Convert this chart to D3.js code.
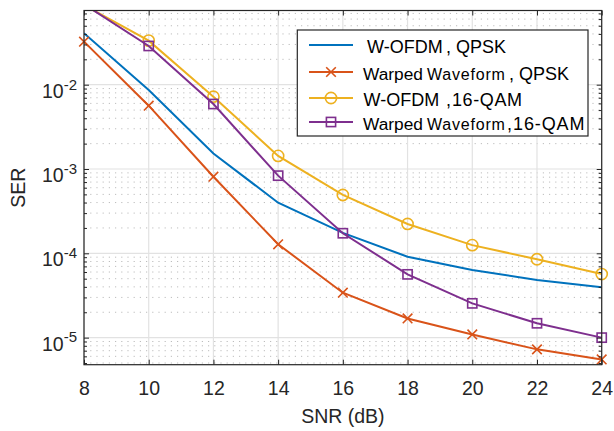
<!DOCTYPE html>
<html>
<head>
<meta charset="utf-8">
<script src="https://cdn.jsdelivr.net/npm/d3@7"></script>
<style>
  body { margin: 0; background: #fff; }
  svg { display: block; font-family: "Liberation Sans", Arial, sans-serif; }
</style>
</head>
<body>
<div id="chart"></div>
<script>
// SNR values (dB) on the x axis
const snr = [8, 10, 12, 14, 16, 18, 20, 22, 24];

// SER curves
const wofdmQpsk  = [0.0408, 8.65e-3, 1.53e-3, 3.98e-4, 1.75e-4, 9.1e-5, 6.34e-5, 4.82e-5, 3.95e-5];
const warpedQpsk = [0.0324, 5.64e-3, 8.1e-4, 1.28e-4, 3.41e-5, 1.69e-5, 1.09e-5, 7.26e-6, 5.52e-6];
const wofdm16    = [0.088, 0.0333, 7.2e-3, 1.43e-3, 4.92e-4, 2.23e-4, 1.25e-4, 8.5e-5, 5.67e-5];
const warped16   = [0.090, 0.0288, 5.9e-3, 8.34e-4, 1.73e-4, 5.63e-5, 2.55e-5, 1.48e-5, 1.0e-5];

const yDecades = [1e-5, 1e-4, 1e-3, 1e-2];
const yExponents = ["-5", "-4", "-3", "-2"];

// legend text pieces per row
const legendLabels = [
    ["W-OFDM", ",", "QPSK"],
    ["Warped", "Waveform", ",", "QPSK"],
    ["W-OFDM", ",", "16-QAM"],
    ["Warped", "Waveform", ",", "16-QAM"]
];

// Set up dimensions and margins
const W = 614, H = 431;
const margin = {top: 10.5, right: 12.3, bottom: 66.3, left: 84};
const width = W - margin.left - margin.right;
const height = H - margin.top - margin.bottom;

const svg = d3.select("#chart").append("svg")
    .attr("width", W).attr("height", H);
const g = svg.append("g")
    .attr("transform", `translate(${margin.left}, ${margin.top})`);

const x = d3.scaleLinear().domain([8, 24]).range([0, width]);
const y = d3.scaleLog().domain([Math.pow(10, -5.321), Math.pow(10, -1.12)]).range([height, 0]);

// minor tick values (2..9 x decade) inside the domain
const minorVals = [];
for (let e = -6; e <= -1; e++) {
    for (let m = 2; m <= 9; m++) {
        const v = m * Math.pow(10, e);
        if (v >= y.domain()[0] && v <= y.domain()[1]) minorVals.push(v);
    }
}

// Grid: dotted minor, then solid major
g.append("g").selectAll("line").data(minorVals).join("line")
    .attr("x1", 0).attr("x2", width)
    .attr("y1", d => y(d)).attr("y2", d => y(d))
    .attr("stroke", "#bdbdbd").attr("stroke-width", 1)
    .attr("stroke-dasharray", "1.2,5");

g.append("g").selectAll("line").data(yDecades).join("line")
    .attr("x1", 0).attr("x2", width)
    .attr("y1", d => y(d)).attr("y2", d => y(d))
    .attr("stroke", "#e2e2e2").attr("stroke-width", 1.2);

g.append("g").selectAll("line").data(snr).join("line")
    .attr("x1", d => x(d)).attr("x2", d => x(d))
    .attr("y1", 0).attr("y2", height)
    .attr("stroke", "#e2e2e2").attr("stroke-width", 1.2);

// Series
const series = [
    {name: "wofdmQpsk", values: wofdmQpsk, color: "#0072BD", marker: "none"},
    {name: "warpedQpsk", values: warpedQpsk, color: "#D95319", marker: "x"},
    {name: "wofdm16", values: wofdm16, color: "#EDB120", marker: "o"},
    {name: "warped16", values: warped16, color: "#7E2F8E", marker: "s"}
];

svg.append("defs").append("clipPath").attr("id", "plotClip")
    .append("rect").attr("width", width).attr("height", height);

const line = d3.line().x(d => x(d[0])).y(d => y(d[1]));

function drawMarker(sel, type, color) {
    if (type === "x") {
        sel.append("path").attr("d", "M-4.8,-4.8L4.8,4.8M-4.8,4.8L4.8,-4.8")
            .attr("stroke", color).attr("stroke-width", 1.6).attr("fill", "none");
    } else if (type === "o") {
        sel.append("circle").attr("r", 5.6)
            .attr("stroke", color).attr("stroke-width", 1.6).attr("fill", "none");
    } else if (type === "s") {
        sel.append("rect").attr("x", -4.6).attr("y", -4.6).attr("width", 9.2).attr("height", 9.2)
            .attr("stroke", color).attr("stroke-width", 1.6).attr("fill", "none");
    }
}

series.forEach(s => {
    const pts = snr.map((v, i) => [v, s.values[i]]);
    g.append("path")
        .attr("clip-path", "url(#plotClip)")
        .attr("d", line(pts))
        .attr("fill", "none").attr("stroke", s.color).attr("stroke-width", 2);
    if (s.marker !== "none") {
        pts.filter(p => p[1] <= y.domain()[1] && p[1] >= y.domain()[0]).forEach(p => {
            const m = g.append("g").attr("transform", `translate(${x(p[0])},${y(p[1])})`);
            drawMarker(m, s.marker, s.color);
        });
    }
});

// Axes
const axisColor = "#262626";
const fontSize = 19.5;

const xAxis = g.append("g").attr("transform", `translate(0,${height})`)
    .call(d3.axisBottom(x).tickValues(snr).tickFormat(d3.format("d"))
        .tickSizeInner(-5).tickSizeOuter(0).tickPadding(16));
g.append("g")
    .call(d3.axisTop(x).tickValues(snr).tickFormat("").tickSizeInner(-5).tickSizeOuter(0));

const yAxis = g.append("g")
    .call(d3.axisLeft(y).tickValues(yDecades).tickSizeInner(-5).tickSizeOuter(0).tickPadding(7));
g.append("g")
    .call(d3.axisLeft(y).tickValues(minorVals).tickFormat("").tickSizeInner(-3).tickSizeOuter(0));
g.append("g").attr("transform", `translate(${width},0)`)
    .call(d3.axisRight(y).tickValues(yDecades).tickFormat("").tickSizeInner(-5).tickSizeOuter(0));
g.append("g").attr("transform", `translate(${width},0)`)
    .call(d3.axisRight(y).tickValues(minorVals).tickFormat("").tickSizeInner(-3).tickSizeOuter(0));

g.selectAll(".domain").remove();
g.selectAll(".tick line").attr("stroke", axisColor);
xAxis.selectAll("text").attr("font-size", fontSize).attr("fill", axisColor)
    .attr("font-family", null);

// superscript labels for the decades
yAxis.selectAll(".tick text").each(function(d, i) {
    const t = d3.select(this);
    t.text(null).attr("dy", null).attr("y", 12.6)
        .attr("font-size", fontSize).attr("fill", axisColor).attr("font-family", null);
    t.append("tspan").text("10");
    t.append("tspan").attr("dy", -8.3).attr("font-size", 15).text(yExponents[i]);
});

// Box
g.append("rect").attr("width", width).attr("height", height)
    .attr("fill", "none").attr("stroke", axisColor).attr("stroke-width", 1.2);

// Axis labels
svg.append("text")
    .attr("x", margin.left + width / 2).attr("y", 422.5)
    .attr("text-anchor", "middle").attr("font-size", fontSize).attr("fill", axisColor)
    .text("SNR (dB)");
svg.append("text")
    .attr("transform", `translate(25,${margin.top + height / 2}) rotate(-90)`)
    .attr("text-anchor", "middle").attr("font-size", fontSize).attr("fill", axisColor)
    .text("SER");

// Legend
const legend = svg.append("g");
legend.append("rect")
    .attr("x", 297.3).attr("y", 30).attr("width", 290.7).attr("height", 106)
    .attr("fill", "#fff").attr("stroke", axisColor).attr("stroke-width", 1.2);
const rowY = [45, 72, 98, 122];
// x position, size and spacing of each text piece, per row
const pieceLayout = [
    [[367, 18, 0], [446, 18, 0], [456, 18, 0]],
    [[363, 17.3, 0], [427, 16, 0.8], [509, 18, 0], [519, 18, 0]],
    [[363.5, 18, 0], [446, 18, 0], [452, 18, 0.6]],
    [[363, 17.3, 0], [427, 16, 0.8], [507, 18, 0], [513, 18, 0.9]]
];
series.forEach((s, i) => {
    const r = legend.append("g").attr("transform", `translate(0,${rowY[i]})`);
    r.append("line").attr("x1", 309).attr("x2", 353).attr("y1", 0).attr("y2", 0)
        .attr("stroke", s.color).attr("stroke-width", 2);
    const m = r.append("g").attr("transform", "translate(331,0)");
    drawMarker(m, s.marker, s.color);
    const t = r.append("text").attr("y", 7.5).attr("fill", "#000");
    legendLabels[i].forEach((p, j) => {
        const [px, fs, ls] = pieceLayout[i][j];
        t.append("tspan").attr("x", px).attr("font-size", fs)
            .attr("letter-spacing", ls).text(p);
    });
});
</script>
</body>
</html>
